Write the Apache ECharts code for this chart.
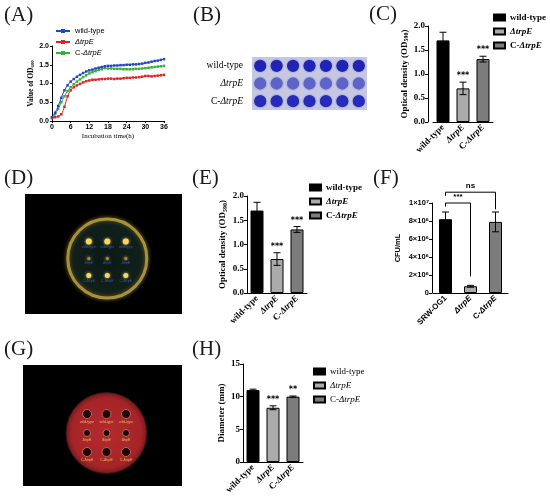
<!DOCTYPE html>
<html>
<head>
<meta charset="utf-8">
<script src="https://cdn.jsdelivr.net/npm/echarts@6/dist/echarts.min.js"></script>
<style>
  html, body { margin: 0; padding: 0; background: #fff; }
  #canvas { width: 550px; height: 502px; }
</style>
</head>
<body>
<div id="canvas"></div>
<script>
var SERIF = 'Liberation Serif';
var SANS = 'Liberation Sans';

// (A) growth curves, OD600 every hour 0..36 h
var hours = [];
for (var h = 0; h <= 36; h++) hours.push(h);
var growthWT = [0.10,0.22,0.40,0.62,0.82,0.95,1.05,1.12,1.18,1.23,1.28,1.32,1.35,1.37,1.40,1.42,1.44,1.46,1.47,1.47,1.48,1.48,1.49,1.49,1.50,1.50,1.51,1.51,1.52,1.53,1.55,1.56,1.58,1.60,1.61,1.63,1.65];
var growthMut = [0.08,0.10,0.12,0.18,0.38,0.66,0.82,0.90,0.95,0.99,1.03,1.06,1.08,1.10,1.10,1.11,1.12,1.12,1.13,1.13,1.12,1.13,1.13,1.14,1.15,1.15,1.16,1.16,1.17,1.18,1.20,1.20,1.19,1.20,1.21,1.22,1.23];
var growthComp = [0.08,0.18,0.32,0.50,0.66,0.80,0.90,0.98,1.05,1.11,1.17,1.22,1.27,1.30,1.33,1.36,1.38,1.41,1.40,1.40,1.39,1.39,1.39,1.38,1.38,1.38,1.38,1.39,1.39,1.40,1.41,1.42,1.43,1.44,1.45,1.46,1.47];
var strains = ['wild-type', 'ΔtrpE', 'C-ΔtrpE'];

// (B) crystal violet plate: relative stain per row, 7 wells each
var plateStain = [0.95, 0.45, 0.9];
var wellsPerRow = 7;

// (C) biofilm OD590
var biofilmMean = [1.70, 0.70, 1.31];
var biofilmSd = [0.17, 0.13, 0.06];
var biofilmSig = ['', '***', '***'];

// (D) halo plate: colony sizes per strain row
var haloSize = [6, 3, 5];

// (E) OD590
var odMean = [1.70, 0.70, 1.31];
var odSd = [0.17, 0.13, 0.06];
var odSig = ['', '***', '***'];

// (F) CFU/mL
var cfuCats = ['SRW-OG1', 'ΔtrpE', 'C-ΔtrpE'];
var cfuMean = [8.2e6, 0.75e6, 7.9e6];
var cfuSd = [0.8e6, 0.1e6, 1.1e6];
var cfuTicks = ['0', '2×10⁶', '4×10⁶', '6×10⁶', '8×10⁶', '1×10⁷'];
// [from, to, level, leftEnd, rightEnd]
var cfuBrackets = [[0, 1, 1.0e7, 9.6e6, 1.85e6], [0, 2, 1.12e7, 1.08e7, 9.3e6]];
var cfuBracketText = ['***', 'ns'];

// (G) halo plate holes per strain row
var holeSize = [9, 7, 9];

// (H) diameter (mm)
var diaMean = [11.0, 8.3, 10.0];
var diaSd = [0.15, 0.3, 0.1];
var diaSig = ['', '***', '**'];

var barColors = ['#000000', '#ababab', '#7c7c7c'];

function richLabel(s) {
  return s.replace('ΔtrpE', '{i|ΔtrpE}');
}
function richSet(family, size, weight, color) {
  return {
    i: { fontFamily: family, fontSize: size, fontWeight: weight, fontStyle: 'italic', color: color || '#000' },
    s: { fontFamily: family, fontSize: size * 0.65, fontWeight: weight, verticalAlign: 'bottom', padding: [size * 0.5, 0, 0, 0], color: color || '#000' }
  };
}

function errorSeries(gi, means, sds, sig) {
  return {
    type: 'custom',
    xAxisIndex: gi, yAxisIndex: gi,
    clip: false, z: 5, silent: true,
    data: means.map(function (m, k) { return [k, m, sds[k]]; }),
    renderItem: function (params, api) {
      var x = api.value(0), m = api.value(1), s = api.value(2);
      var top = api.coord([x, m + s]), bot = api.coord([x, m - s]);
      var st = { stroke: '#000', lineWidth: 1 };
      var ch = [
        { type: 'line', shape: { x1: top[0], y1: top[1], x2: bot[0], y2: bot[1] }, style: st },
        { type: 'line', shape: { x1: top[0] - 3.5, y1: top[1], x2: top[0] + 3.5, y2: top[1] }, style: st },
        { type: 'line', shape: { x1: bot[0] - 3.5, y1: bot[1], x2: bot[0] + 3.5, y2: bot[1] }, style: st }
      ];
      var t = sig[params.dataIndex];
      if (t) {
        ch.push({ type: 'text', style: { text: t, x: top[0], y: top[1] - 2, align: 'center', verticalAlign: 'bottom',
          fontFamily: 'DejaVu Sans', fontSize: 8, fontWeight: 'bold', fill: '#000' } });
      }
      return { type: 'group', children: ch };
    }
  };
}

function barSeries(gi, key, names, means) {
  return names.map(function (n, j) {
    return {
      name: key + '|' + n,
      type: 'bar',
      xAxisIndex: gi, yAxisIndex: gi,
      barWidth: 13, barGap: '-100%',
      itemStyle: { color: barColors[j], borderColor: '#000', borderWidth: 1 },
      data: means.map(function (v, k) { return k === j ? v : '-'; })
    };
  });
}

function barXAxis(gi, cats, family, size) {
  return {
    gridIndex: gi, type: 'category', data: cats,
    axisLine: { lineStyle: { color: '#000', width: 1 } },
    axisTick: { alignWithLabel: true, length: 3, lineStyle: { color: '#000' } },
    axisLabel: {
      rotate: 45, margin: 4, color: '#000', fontFamily: family, fontSize: size, fontWeight: 'bold',
      formatter: richLabel, rich: richSet(family, size, 'bold')
    }
  };
}

function valYAxis(gi, min, max, interval, fmt, family, size, name, nameGap, offset) {
  return {
    gridIndex: gi, type: 'value', min: min, max: max, interval: interval, offset: offset || 0,
    name: name, nameLocation: 'middle', nameGap: nameGap,
    nameTextStyle: { fontFamily: family, fontSize: size, fontWeight: 'bold', color: '#000', rich: richSet(family, size, 'bold') },
    axisLine: { show: true, lineStyle: { color: '#000', width: 1 } },
    axisTick: { show: true, length: 3, lineStyle: { color: '#000' } },
    splitLine: { show: false },
    axisLabel: { margin: 3, color: '#000', fontFamily: family, fontSize: size, fontWeight: 'bold', formatter: fmt }
  };
}

function barLegend(key, left, top, weight) {
  return {
    data: strains.map(function (s) { return key + '|' + s; }),
    orient: 'vertical', left: left, top: top, itemGap: 5,
    itemWidth: 11, itemHeight: 6, icon: 'rect', padding: 0,
    textStyle: { fontFamily: SERIF, fontSize: 9, fontWeight: weight, color: '#000', rich: richSet(SERIF, 9, weight) },
    formatter: function (n) { return richLabel(n.split('|')[1]); }
  };
}

function hidden(gi, min, max, inverse) {
  return { gridIndex: gi, type: 'value', min: min, max: max, inverse: !!inverse, show: false };
}

// build plate data from row/column indices
var plateBData = [];
for (var r = 0; r < plateStain.length; r++)
  for (var c = 0; c < wellsPerRow; c++) plateBData.push([c, r, plateStain[r]]);

var haloData = [], holeData = [];
for (var r2 = 0; r2 < 3; r2++)
  for (var c2 = 0; c2 < 3; c2++) {
    haloData.push({ value: [c2, r2], symbolSize: haloSize[r2], row: r2 });
    holeData.push({ value: [c2, r2], symbolSize: holeSize[r2], row: r2 });
  }

var titles = [['(A)', 4, 5], ['(B)', 193, 5], ['(C)', 369, 4], ['(D)', 4, 168], ['(E)', 192, 168],
  ['(F)', 373, 168], ['(G)', 4, 339], ['(H)', 192, 339]];

var dom = document.getElementById('canvas');
var myChart = echarts.init(dom);
var option = {
  animation: false,
  backgroundColor: '#fff',
  title: titles.map(function (t) {
    return { text: t[0], left: t[1], top: t[2], padding: 0,
      textStyle: { fontFamily: SERIF, fontSize: 21, fontWeight: 'normal', color: '#1a1a1a' } };
  }),
  grid: [
    { left: 52, top: 46, width: 112, height: 75 },
    { left: 252, top: 57, width: 115, height: 53, show: true, backgroundColor: '#c6c8e0', borderWidth: 0 },
    { left: 433, top: 26, width: 60, height: 96 },
    { left: 25, top: 194, width: 157, height: 120, show: true, backgroundColor: '#000', borderWidth: 0 },
    { left: 247, top: 196, width: 60, height: 97 },
    { left: 433, top: 203, width: 75, height: 90 },
    { left: 23, top: 365, width: 159, height: 121, show: true, backgroundColor: '#000', borderWidth: 0 },
    { left: 243, top: 364, width: 60, height: 98 }
  ],
  legend: [
    {
      data: strains.map(function (s) { return 'A|' + s; }),
      orient: 'vertical', left: 55, top: 27, itemGap: 3, padding: 0,
      itemWidth: 14, itemHeight: 5,
      textStyle: { fontFamily: SANS, fontSize: 7.5, color: '#000', rich: richSet(SANS, 7.5, 'normal') },
      formatter: function (n) { return richLabel(n.split('|')[1]); }
    },
    barLegend('C', 493, 13, 'bold'),
    barLegend('E', 309, 183, 'bold'),
    barLegend('H', 313, 367, 'normal')
  ],
  xAxis: [
    {
      gridIndex: 0, type: 'value', min: 0, max: 36, interval: 6,
      name: 'Incubation time(h)', nameLocation: 'middle', nameGap: 12,
      nameTextStyle: { fontFamily: SERIF, fontSize: 7, color: '#000' },
      axisLine: { lineStyle: { color: '#000' } },
      axisTick: { length: 2, lineStyle: { color: '#000' } },
      splitLine: { show: false },
      axisLabel: { margin: 3, fontFamily: SANS, fontSize: 7, fontWeight: 'bold', color: '#000' }
    },
    { gridIndex: 1, type: 'category', data: [0, 1, 2, 3, 4, 5, 6], show: false },
    barXAxis(2, strains, SERIF, 9),
    hidden(3, -3.45, 5.04),
    barXAxis(4, strains, SERIF, 9),
    barXAxis(5, cfuCats, SANS, 8),
    hidden(6, -3.28, 4.87),
    barXAxis(7, strains, SERIF, 9)
  ],
  yAxis: [
    {
      gridIndex: 0, type: 'value', min: 0, max: 2, interval: 0.5,
      name: 'Value of OD{s|600}', nameLocation: 'middle', nameGap: 17,
      nameTextStyle: { fontFamily: SERIF, fontSize: 7.5, fontWeight: 'bold', color: '#000', rich: richSet(SERIF, 7.5, 'bold') },
      axisLine: { show: true, lineStyle: { color: '#000' } },
      axisTick: { show: true, length: 2, lineStyle: { color: '#000' } },
      splitLine: { show: false },
      axisLabel: { margin: 3, fontFamily: SANS, fontSize: 7, fontWeight: 'bold', color: '#000',
        formatter: function (v) { return v.toFixed(1); } }
    },
    { gridIndex: 1, type: 'category', data: strains, inverse: true,
      axisLine: { show: false }, axisTick: { show: false },
      axisLabel: { margin: 9, fontFamily: SERIF, fontSize: 9.5, color: '#000', formatter: richLabel, rich: richSet(SERIF, 9.5, 'normal') } },
    valYAxis(2, 0, 2, 0.5, function (v) { return v.toFixed(1); }, SERIF, 9, 'Optical density (OD{s|590})', 18, 5),
    hidden(3, -2.79, 4.27, true),
    valYAxis(4, 0, 2, 0.5, function (v) { return v.toFixed(1); }, SERIF, 9, 'Optical density (OD{s|590})', 19, 0),
    valYAxis(5, 0, 1e7, 2e6, function (v) { return cfuTicks[Math.round(v / 2e6)]; }, SANS, 7.5, 'CFU/mL', 30, 1),
    hidden(6, -2.58, 3.79, true),
    valYAxis(7, 0, 15, 5, null, SERIF, 9, 'Diameter (mm)', 17, 0)
  ],
  series: []
};

// (A) growth curves
var growthSets = [growthWT, growthMut, growthComp];
var growthColors = ['#2445c8', '#e02424', '#33b233'];
growthSets.forEach(function (set, j) {
  option.series.push({
    name: 'A|' + strains[j], type: 'line', xAxisIndex: 0, yAxisIndex: 0,
    data: hours.map(function (hh, k) { return [hh, set[k]]; }),
    smooth: 0.3, symbol: 'rect', symbolSize: 2.5, showSymbol: true,
    lineStyle: { width: 1, color: growthColors[j] },
    itemStyle: { color: growthColors[j] }, z: 3 - j
  });
});

// (B) plate wells
option.series.push({
  type: 'scatter', xAxisIndex: 1, yAxisIndex: 1, silent: true,
  data: plateBData, symbolSize: 13.5,
  itemStyle: {
    opacity: 1,
    color: function (p) {
      var s = p.value[2];
      var r = Math.round(150 - 125 * s), g = Math.round(155 - 125 * s), b = Math.round(215 - 35 * s);
      return 'rgb(' + r + ',' + g + ',' + b + ')';
    },
    borderColor: '#b4b8e4', borderWidth: 1.2
  }
});

// (C) bars + error bars
option.series = option.series.concat(barSeries(2, 'C', strains, biofilmMean));
option.series.push(errorSeries(2, biofilmMean, biofilmSd, biofilmSig));

// (D) halo plate
option.series.push({
  type: 'scatter', xAxisIndex: 3, yAxisIndex: 3, silent: true,
  data: [[1, 1]], symbolSize: 79, z: 1,
  itemStyle: {
    opacity: 1,
    color: { type: 'radial', x: 0.5, y: 0.5, r: 0.5, colorStops: [{ offset: 0, color: '#0c1a15' }, { offset: 0.9, color: '#11201a' }, { offset: 1, color: '#3a3a18' }] },
    borderColor: '#a8913a', borderWidth: 3, shadowBlur: 4, shadowColor: '#6e6020'
  }
});
option.series.push({
  type: 'scatter', xAxisIndex: 3, yAxisIndex: 3, silent: true, z: 2,
  data: haloData,
  itemStyle: {
    opacity: 1,
    color: function (p) { return p.data.row === 1 ? '#a58c45' : '#f6d860'; },
    shadowBlur: 3, shadowColor: '#f0d060'
  },
  label: {
    show: true, position: 'bottom', distance: 1, fontSize: 3.5, fontFamily: SANS, color: '#4050c0',
    formatter: function (p) { return strains[p.data.row]; }
  }
});

// (E)
option.series = option.series.concat(barSeries(4, 'E', strains, odMean));
option.series.push(errorSeries(4, odMean, odSd, odSig));

// (F)
option.series = option.series.concat(barSeries(5, 'F', cfuCats, cfuMean));
option.series.push(errorSeries(5, cfuMean, cfuSd, []));
option.series.push({
  type: 'custom', xAxisIndex: 5, yAxisIndex: 5, clip: false, silent: true, z: 6,
  data: cfuBrackets,
  renderItem: function (params, api) {
    var a = api.value(0), b = api.value(1), lv = api.value(2), le = api.value(3), re = api.value(4);
    var p1 = api.coord([a, le]), p2 = api.coord([a, lv]), p3 = api.coord([b, lv]), p4 = api.coord([b, re]);
    return {
      type: 'group', children: [
        { type: 'polyline', shape: { points: [p1, p2, p3, p4] }, style: { stroke: '#000', lineWidth: 1, fill: null } },
        { type: 'text', style: { text: cfuBracketText[params.dataIndex], x: (p2[0] + p3[0]) / 2, y: p2[1] - 2,
          align: 'center', verticalAlign: 'bottom', fontFamily: SANS, fontSize: 8, fontWeight: 'bold', fill: '#000' } }
      ]
    };
  }
});

// (G) red halo plate
option.series.push({
  type: 'scatter', xAxisIndex: 6, yAxisIndex: 6, silent: true,
  data: [[1, 1]], symbolSize: 81, z: 1,
  itemStyle: {
    opacity: 1,
    color: { type: 'radial', x: 0.5, y: 0.5, r: 0.5, colorStops: [{ offset: 0, color: '#b42a2e' }, { offset: 0.85, color: '#a52428' }, { offset: 1, color: '#6e1a1c' }] },
    borderColor: '#3a1010', borderWidth: 1
  }
});
option.series.push({
  type: 'scatter', xAxisIndex: 6, yAxisIndex: 6, silent: true, z: 2,
  data: holeData,
  itemStyle: { opacity: 1, color: '#1c0606', borderColor: '#c86060', borderWidth: 1 },
  label: {
    show: true, position: 'bottom', distance: 1.5, fontSize: 3.5, fontFamily: SANS, color: '#e0c050',
    formatter: function (p) { return strains[p.data.row]; }
  }
});

// (H)
option.series = option.series.concat(barSeries(7, 'H', strains, diaMean));
option.series.push(errorSeries(7, diaMean, diaSd, diaSig));

myChart.setOption(option);
</script>
</body>
</html>
